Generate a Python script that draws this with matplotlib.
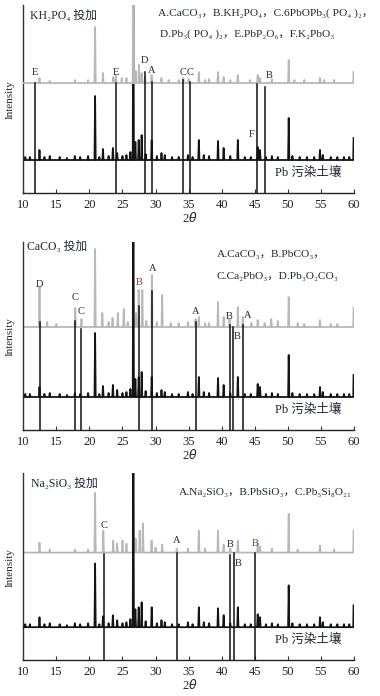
import matplotlib
matplotlib.use('Agg')
import matplotlib.pyplot as plt

plt.rcParams['font.family'] = ['Liberation Serif', 'DejaVu Serif', 'Noto Sans CJK SC']

# ---------------------------------------------------------------------------
# Data (2theta positions, peak heights in plot units above each baseline)
# ---------------------------------------------------------------------------

# Pb contaminated soil (same pattern in all three panels)
soil_pos = [10.3, 11.0, 12.45, 13.2, 14.0, 15.5, 16.6, 17.8, 18.6, 19.8, 20.86,
            21.5, 22.05, 22.9, 23.55, 24.2, 25.0, 25.6, 26.2, 26.64, 26.95,
            27.45, 27.9, 28.5, 29.42, 30.2, 30.9, 31.4, 32.5, 33.5, 34.9, 35.6,
            36.55, 37.3, 38.1, 39.45, 40.3, 41.3, 42.45, 43.5, 44.4, 45.45,
            45.8, 46.7, 47.6, 48.5, 50.14, 50.7, 51.8, 52.9, 54.0, 54.87, 55.3,
            56.5, 57.5, 58.5, 59.3]
soil_int = [3, 3, 10, 3, 4, 3, 2, 4, 3, 4, 64,
            3, 11, 4, 12, 7, 4, 5, 8, 200, 18,
            20, 25, 6, 20, 4, 7, 5, 3, 3, 5, 3,
            20, 5, 4, 19, 12, 4, 20, 3, 3, 13,
            10, 3, 4, 3, 42, 4, 3, 3, 3, 10, 5,
            3, 3, 3, 3]
soil_end = 22

# KH2PO4 treated
kh_pos = [12.45, 14.0, 17.8, 19.8, 20.86, 22.05, 23.6, 24.0, 24.9, 25.6, 26.64,
          27.0, 27.5, 27.9, 28.4, 29.4, 30.9, 32.0, 33.5, 34.2, 35.0, 36.55,
          37.5, 38.1, 39.45, 40.3, 41.3, 42.45, 44.3, 45.45, 45.8, 47.6, 50.14,
          51.0, 52.5, 54.87, 55.5, 57.0]
kh_int = [5, 2, 3, 3, 56, 10, 6, 8, 5, 5, 200,
          12, 18, 10, 6, 8, 5, 3, 3, 5, 4, 11,
          3, 4, 11, 6, 3, 8, 3, 8, 5, 4, 23,
          3, 3, 5, 3, 3]
kh_end = 11

# CaCO3 treated
ca_pos = [12.45, 13.6, 15.0, 17.86, 18.8, 20.86, 21.95, 22.9, 23.5, 24.3, 25.2,
          25.8, 26.64, 27.05, 27.45, 28.0, 28.6, 29.45, 30.2, 31.0, 32.3, 33.5,
          34.9, 36.05, 36.55, 37.5, 38.1, 39.45, 40.3, 41.2, 42.45, 43.2, 44.5,
          45.45, 46.5, 47.5, 48.5, 50.14, 51.5, 52.5, 54.87, 56.5, 57.5]
ca_int = [40, 5, 3, 19, 8, 78, 14, 5, 9, 14, 18,
          5, 200, 14, 37, 37, 6, 52, 5, 32, 4, 4,
          5, 8, 10, 4, 4, 25, 10, 8, 20, 10, 4,
          7, 4, 8, 6, 30, 4, 3, 7, 3, 3]
ca_end = 19

# Na2SiO3 treated
na_pos = [12.45, 14.0, 17.8, 19.8, 20.86, 22.1, 23.6, 24.2, 25.0, 25.6, 26.64,
          27.0, 27.6, 28.1, 29.4, 30.0, 31.0, 33.2, 34.9, 36.55, 37.5, 39.45,
          40.3, 41.3, 42.45, 45.45, 45.8, 47.6, 50.14, 51.5, 54.87, 57.0]
na_int = [10, 3, 3, 3, 60, 22, 12, 9, 12, 9, 200,
          14, 22, 29, 12, 5, 8, 4, 4, 22, 4, 22,
          8, 4, 12, 9, 6, 4, 39, 3, 7, 3]
na_end = 22

# Phase marker lines: position, line top, label, label height, label side
kh_marks = [(11.75, 110, 'E', 121, 'c'), (24.0, 110, 'E', 121, 'c'),
            (28.35, 121, 'D', 133, 'c'), (29.45, 111, 'A', 123, 'c'),
            (34.2, 113, 'C', 121, 'c'), (35.2, 111, 'C', 121, 'c'),
            (45.3, 109, 'F', 59, 'l'), (46.6, 106, 'B', 118, 'r')]
ca_marks = [(12.5, 108, 'D', 145, 'c'), (17.86, 109, 'C', 132, 'c'),
            (18.8, 101, 'C', 118, 'c'), (27.5, 124, 'B', 147, 'c'),
            (29.5, 139, 'A', 161, 'c'), (36.1, 108, 'A', 118, 'c'),
            (41.2, 105, 'B', 113, 'c'), (41.7, 103, 'B', 93, 'r'),
            (43.3, 105, 'A', 114, 'r')]
na_marks = [(22.2, 107, 'C', 135, 'c'), (33.2, 108, 'A', 120, 'c'),
            (41.3, 106, 'B', 116, 'c'), (41.9, 108, 'B', 97, 'r'),
            (45.05, 108, 'B', 117, 'c')]
brown_labels = {('ca', 27.5), ('na', 45.05)}

titles = ['KH₂PO₄ 投加', 'CaCO₃ 投加', 'Na₂SiO₃ 投加']
legends = [
    ['A.CaCO₃，B.KH₂PO₄，C.6PbOPb₃( PO₄ )₂，', 'D.Pb₃( PO₄ )₂，E.PbP₂O₆，F.K₂PbO₃'],
    ['A.CaCO₃，B.PbCO₃，', 'C.Ca₂PbO₃，D.Pb₃O₂CO₃'],
    ['A.Na₂SiO₃，B.PbSiO₃，C.Pb₅Si₈O₂₁'],
]
soil_label = 'Pb 污染土壤'
xticks = [10, 15, 20, 25, 30, 35, 40, 45, 50, 55, 60]

SOIL_BASE = 33
TREAT_BASE = [110, 103, 108]
YMAX = 188
HW = 0.09
TEXT = '#1e2433'
BROWN = '#8a3b1f'


def profile(pos, hgt, base, end):
    xs, ys = [10.0], [base]
    for p, h in zip(pos, hgt):
        xs += [p - HW, p, p + HW]
        ys += [base, base + h, base]
    xs += [59.9, 59.95]
    ys += [base, base + end]
    return xs, ys


fig = plt.figure(figsize=(3.8, 6.96), dpi=100)
rects = [[0.0613, 0.7227, 0.870, 0.2701],
         [0.0613, 0.3822, 0.870, 0.2701],
         [0.0613, 0.0517, 0.870, 0.2687]]
treat = [(kh_pos, kh_int, kh_end, kh_marks, 'kh'),
         (ca_pos, ca_int, ca_end, ca_marks, 'ca'),
         (na_pos, na_int, na_end, na_marks, 'na')]
legend_xy = [[(0.407, 0.957), (0.413, 0.846)],
             [(0.585, 0.936), (0.585, 0.819)],
             [(0.47, 0.894)]]
title_xy = [(0.02, 0.94), (0.011, 0.975), (0.023, 0.941)]

for i, (rect, (tp, ti, te, marks, key)) in enumerate(zip(rects, treat)):
    ax = fig.add_axes(rect)
    ax.set_xlim(10, 60)
    ax.set_ylim(0, YMAX)

    sx, sy = profile(soil_pos, soil_int, SOIL_BASE, soil_end)
    gx, gy = profile(tp, ti, TREAT_BASE[i], te)
    ax.plot(sx, sy, color='#141414', lw=1.3, zorder=3 if i else 2)
    ax.plot(gx, gy, color='#b8b8b8', lw=1.3, zorder=2 if i else 3)

    for p, top, lab, ly, side in marks:
        ax.plot([p, p], [0, top], color='#111111', lw=1.1, zorder=4)
        col = BROWN if (key, p) in brown_labels else TEXT
        ha = {'c': 'center', 'l': 'right', 'r': 'left'}[side]
        dx = {'c': 0, 'l': -0.3, 'r': 0.1}[side]
        ax.text(p + dx, ly, lab, ha=ha, va='center', fontsize=7.5,
                color=col, zorder=5)

    ax.text(title_xy[i][0], title_xy[i][1], titles[i], transform=ax.transAxes,
            ha='left', va='center', fontsize=8.5, color=TEXT)
    for line, (lx, lyy) in zip(legends[i], legend_xy[i]):
        ax.text(lx, lyy, line, transform=ax.transAxes, ha='left',
                va='center', fontsize=8.2, color=TEXT)
    ax.text(0.76, 0.106, soil_label, transform=ax.transAxes, ha='left',
            va='center', fontsize=9, color=TEXT)

    ax.text(-0.04, 0.495, 'Intensity', transform=ax.transAxes, rotation=90,
            ha='center', va='center', fontsize=8, color=TEXT)
    ax.text(0.504, -0.133, '2$\\theta$', transform=ax.transAxes,
            ha='center', va='center', fontsize=9, color=TEXT)

    for s in ['top', 'right']:
        ax.spines[s].set_visible(False)
    ax.spines['left'].set_color('#333333')
    ax.spines['bottom'].set_color('#222222')
    ax.spines['left'].set_linewidth(1.0)
    ax.spines['bottom'].set_linewidth(1.0)
    ax.set_yticks([])
    ax.set_xticks(xticks)
    ax.tick_params(axis='x', direction='in', length=3, width=0.8, pad=4,
                   labelsize=9, labelcolor='#231f20', color='#333333')

fig.savefig('out.png', dpi=100)
